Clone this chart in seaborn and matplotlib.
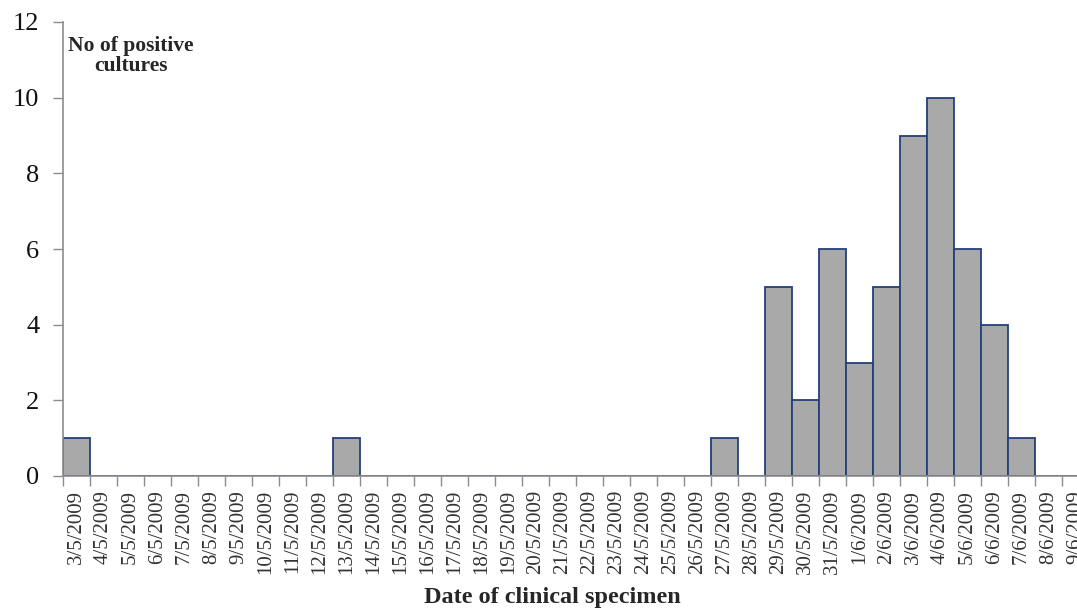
import matplotlib.pyplot as plt
import seaborn as sns
import pandas as pd

# daily counts of positive cultures, 3 May - 9 June 2009
dates = [f"{d}/5/2009" for d in range(3, 32)] + [f"{d}/6/2009" for d in range(1, 10)]
counts = [1, 0, 0, 0, 0, 0, 0, 0, 0, 0,
          1, 0, 0, 0, 0, 0, 0, 0, 0, 0,
          0, 0, 0, 0, 1, 0, 5, 2, 6,
          3, 5, 9, 10, 6, 4, 1, 0, 0]

df = pd.DataFrame({"date": dates, "count": counts})

sns.set_theme(style="white")
plt.rcParams['font.family'] = ['Liberation Serif', 'DejaVu Serif']

fig = plt.figure(figsize=(10.77, 6.08), dpi=100)
# axes runs past the right edge of the figure, like the original
ax = fig.add_axes([63 / 1077, 132 / 608, 1026 / 1077, 454 / 608])

sns.barplot(data=df, x="date", y="count", color="#a9a9a9", edgecolor="#23407a",
            linewidth=1.3, width=1.0, saturation=1, ax=ax)

ax.set_xlim(-0.5, len(dates) - 0.5)
ax.set_ylim(0, 12)
ax.set_yticks(range(0, 13, 2))
ax.tick_params(axis="y", labelsize=19, length=7, width=1, color="#8c8c8c",
               pad=10, left=True, labelcolor="#111111")

ax.set_xticks(range(len(dates)))
ax.set_xticklabels(dates, rotation=90, va="top", ha="center", fontsize=15, color="#333333")
ax.tick_params(axis="x", which="major", length=0, pad=10, bottom=False)
ax.set_xticks([i - 0.5 for i in range(len(dates) + 1)], minor=True)
ax.tick_params(axis="x", which="minor", length=7, width=1, color="#8c8c8c", bottom=True)

for side in ["top", "right"]:
    ax.spines[side].set_visible(False)
for side in ["left", "bottom"]:
    ax.spines[side].set_color("#8c8c8c")
    ax.spines[side].set_linewidth(1.2)

ax.set_xlabel("")
ax.set_ylabel("")

fig.text(131 / 1077, 1 - 56 / 608, "No of positive\ncultures", ha="center", va="center",
         fontsize=15.5, fontweight="bold", linespacing=1.05)
fig.text(552 / 1077, 1 - 598 / 608, "Date of clinical specimen", ha="center", va="center",
         fontsize=17.5, fontweight="bold")

fig.savefig("out.png", dpi=100)
